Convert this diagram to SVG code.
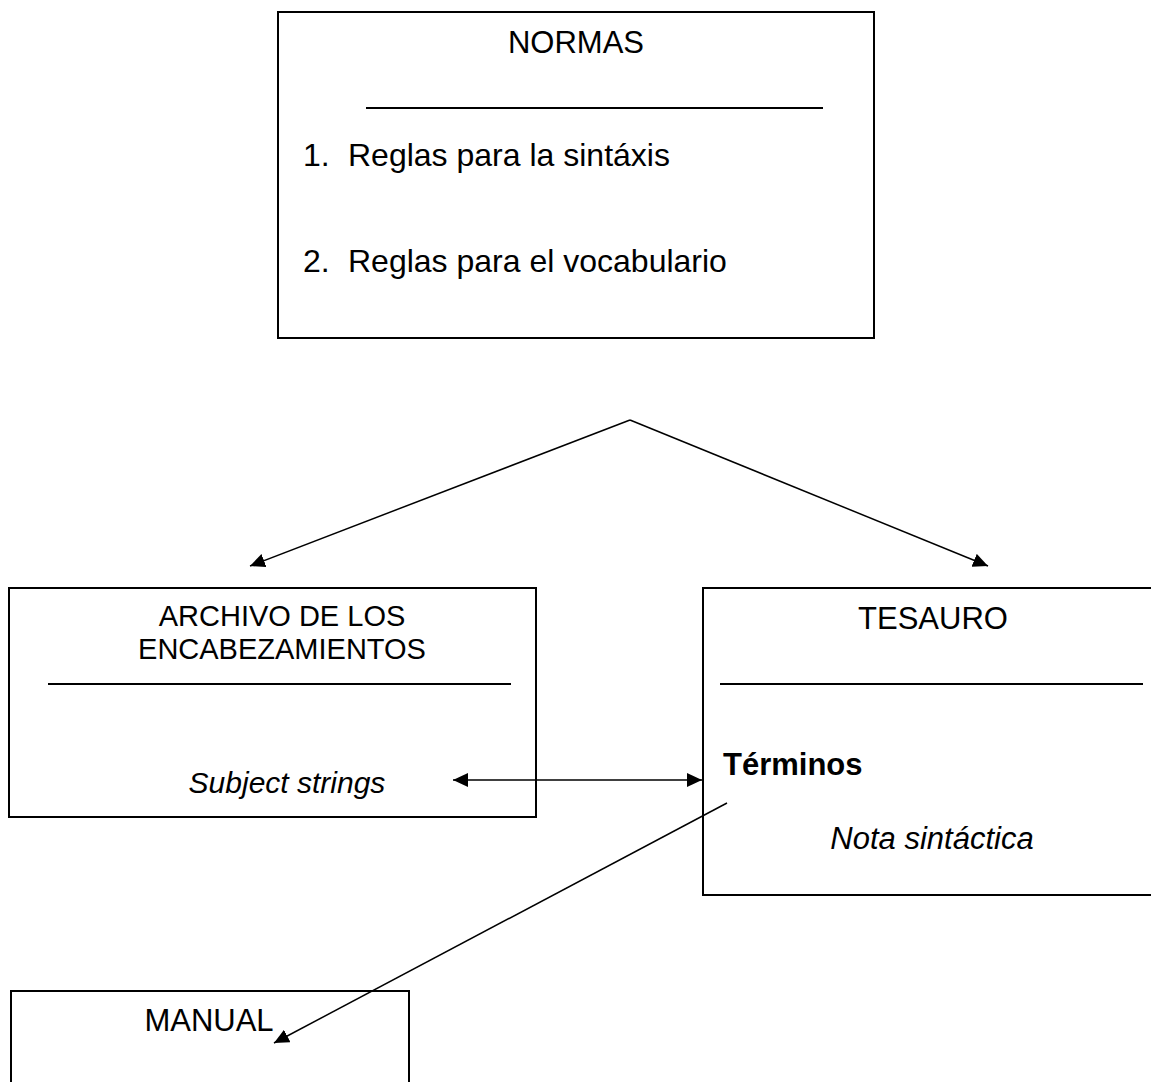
<svg xmlns="http://www.w3.org/2000/svg" width="1151" height="1082" viewBox="0 0 1151 1082">
<style>
.box{fill:#fff;stroke:#000;stroke-width:2}
.sep{stroke:#000;stroke-width:2}
.t{font-family:"Liberation Sans",Arial,sans-serif;fill:#000}
.c{stroke:#000;stroke-width:1.5;fill:none}
</style>
<defs>
<marker id="ah" markerUnits="userSpaceOnUse" markerWidth="15" markerHeight="14" refX="15" refY="7" orient="auto-start-reverse">
<path d="M0,0 L15,7 L0,14 z" fill="#000"/>
</marker>
</defs>
<g id="normas">
<rect class="box" x="278" y="12" width="596" height="326"/>
<text class="t" x="576" y="53" font-size="31" text-anchor="middle">NORMAS</text>
<line class="sep" x1="366" y1="108" x2="823" y2="108"/>
<text class="t" x="303" y="166" font-size="32">1.</text>
<text class="t" x="348" y="166" font-size="32">Reglas para la sintáxis</text>
<text class="t" x="303" y="272" font-size="32">2.</text>
<text class="t" x="348" y="272" font-size="32">Reglas para el vocabulario</text>
</g>
<g id="archivo">
<rect class="box" x="9" y="588" width="527" height="229"/>
<text class="t" x="282" y="626" font-size="29" text-anchor="middle">ARCHIVO DE LOS</text>
<text class="t" x="282" y="659" font-size="29" text-anchor="middle">ENCABEZAMIENTOS</text>
<line class="sep" x1="48" y1="684" x2="511" y2="684"/>
<text class="t" x="287" y="793" font-size="30" font-style="italic" text-anchor="middle">Subject strings</text>
</g>
<g id="tesauro">
<rect class="box" x="703" y="588" width="470" height="307"/>
<text class="t" x="933" y="629" font-size="31" text-anchor="middle">TESAURO</text>
<line class="sep" x1="720" y1="684" x2="1143" y2="684"/>
<text class="t" x="723" y="775" font-size="31" font-weight="bold">Términos</text>
<text class="t" x="932" y="849" font-size="31" font-style="italic" text-anchor="middle">Nota sintáctica</text>
</g>
<g id="manual">
<rect class="box" x="11" y="991" width="398" height="120"/>
<text class="t" x="209" y="1031" font-size="31" text-anchor="middle">MANUAL</text>
</g>
<g id="connectors">
<line class="c" x1="630" y1="420" x2="250" y2="566" marker-end="url(#ah)"/>
<line class="c" x1="630" y1="420" x2="988" y2="566" marker-end="url(#ah)"/>
<line class="c" x1="453" y1="780" x2="702" y2="780" marker-start="url(#ah)" marker-end="url(#ah)"/>
<line class="c" x1="727" y1="803" x2="274" y2="1043" marker-end="url(#ah)"/>
</g>
</svg>
